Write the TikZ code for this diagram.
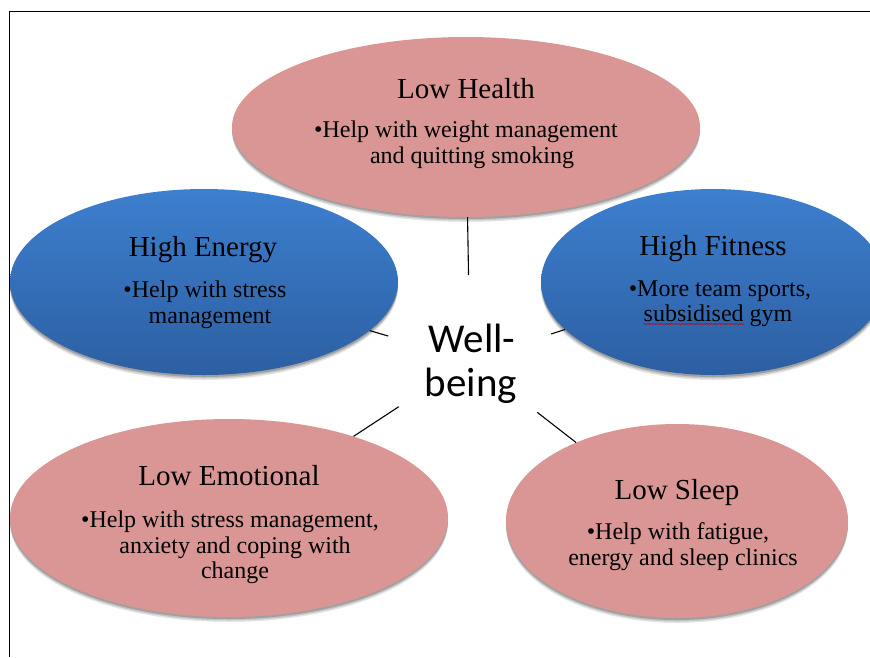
\documentclass[tikz,border=0pt]{standalone}
\usepackage{fontspec}
\setmainfont{Liberation Serif}
\newfontfamily\wbfont{Carlito}
\usetikzlibrary{shapes.geometric,shadows,decorations.pathmorphing}
\definecolor{pinkc}{HTML}{D99694}
\definecolor{bluetop}{HTML}{3D7FCF}
\definecolor{bluebot}{HTML}{2C5FA2}
\begin{document}
\begin{tikzpicture}[x=1pt,y=-1pt,
  ell/.style={ellipse, inner sep=0pt, draw=none,
    general shadow={shadow xshift=0pt, shadow yshift=-5pt, fill=black, opacity=0.10},
    general shadow={shadow xshift=0pt, shadow yshift=-3.5pt, fill=black, opacity=0.14},
    general shadow={shadow xshift=0pt, shadow yshift=-2pt, fill=black, opacity=0.18}},
  pinkell/.style={ell, fill=pinkc},
  blueell/.style={ell, top color=bluetop, bottom color=bluebot},
  ttl/.style={anchor=base, inner sep=0pt, font=\fontsize{29}{32}\selectfont},
  bdy/.style={anchor=base, inner sep=0pt, font=\fontsize{24}{26}\selectfont},
  wbtxt/.style={anchor=base, inner sep=0pt, font=\wbfont\fontsize{41}{44}\selectfont},
  link/.style={draw=black, line width=1.1pt},
]
\useasboundingbox (0,0) rectangle (870,657);
\clip (0,0) rectangle (870,657);
\fill[white] (0,0) rectangle (870,657);

% frame
\draw[line width=1.3pt] (9.5,657) -- (9.5,11.5) -- (870,11.5);

% centre
\node[circle, minimum size=170pt, inner sep=0pt] (wb) at (470,360) {};

% ellipses
\node[blueell, minimum width=388pt, minimum height=186pt] (he) at (204,282) {};
\node[blueell, minimum width=344pt, minimum height=186pt] (hf) at (713,282) {};
\node[pinkell, minimum width=468pt, minimum height=180pt] (lh) at (466,127) {};
\node[pinkell, minimum width=438pt, minimum height=198pt] (le) at (229,518) {};
\node[pinkell, minimum width=342pt, minimum height=194pt] (ls) at (677,521) {};

% connectors
\draw[link] (wb) -- (lh);
\draw[link] (wb) -- (he);
\draw[link] (wb) -- (hf);
\draw[link] (wb) -- (le);
\draw[link] (wb) -- (ls);

% Well-being text
\node[wbtxt] (wb1) at (472,352) {Well-};
\node[wbtxt] (wb2) at (471,396) {being};

% Low Health
\node[ttl] (lht) at (466,98) {Low Health};
\node[bdy] (lhb1) at (466,137) {•Help with weight management};
\node[bdy] (lhb2) at (472,163) {and quitting smoking};

% High Energy
\node[ttl] (het) at (203,256) {High Energy};
\node[bdy] (heb1) at (205,297) {•Help with stress};
\node[bdy] (heb2) at (210,323) {management};

% High Fitness
\node[ttl] (hft) at (713,255) {High Fitness};
\node[bdy] (hfb1) at (720,296) {•More team sports,};
\node[bdy] (hfb2) at (718,321) {subsidised gym};
\draw[red!75!black, line width=0.5pt, decorate,
  decoration={snake, amplitude=0.5pt, segment length=2.5pt}]
  (hfb2.base west) ++(0,3) -- ++(101,0);

% Low Emotional
\node[ttl] (let) at (229,485) {Low Emotional};
\node[bdy] (leb1) at (230,527) {•Help with stress management,};
\node[bdy] (leb2) at (235,553) {anxiety and coping with};
\node[bdy] (leb3) at (235,578) {change};

% Low Sleep
\node[ttl] (lst) at (677,499) {Low Sleep};
\node[bdy] (lsb1) at (678,539) {•Help with fatigue,};
\node[bdy] (lsb2) at (683,565) {energy and sleep clinics};
\end{tikzpicture}
\end{document}
